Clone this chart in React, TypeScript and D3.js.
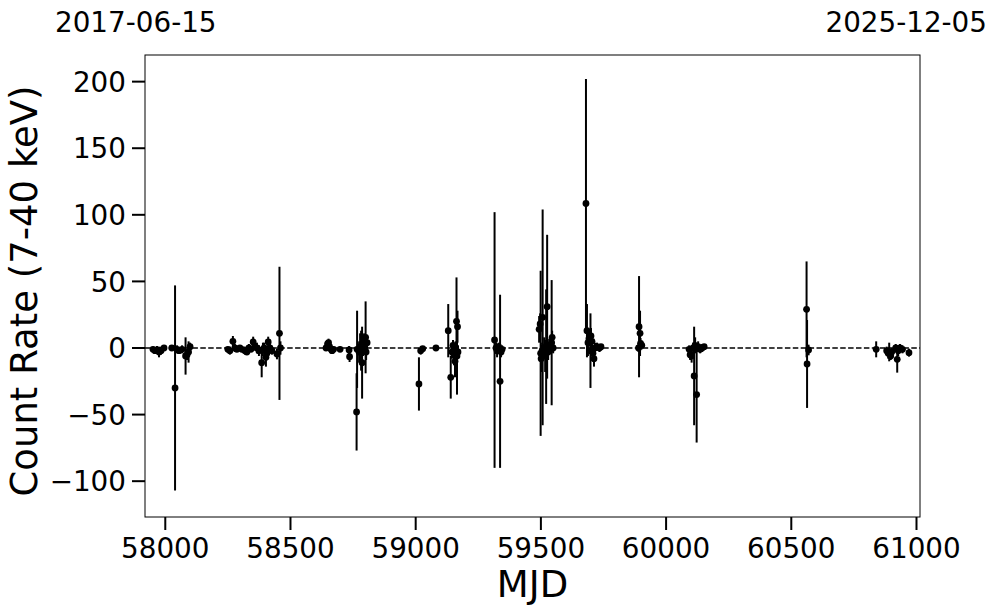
import React from "react";
import * as d3 from "d3";

// MJD of each observation
const mjd: number[] = [
  57951, 57959, 57967, 57975, 57983, 57995, 58026, 58039, 58047, 58055, 58067, 58081, 58087, 58093, 58099,
  58250, 58258, 58270, 58278, 58286, 58298, 58306, 58318, 58326, 58334, 58342, 58351, 58358, 58366, 58374,
  58385, 58390, 58395, 58402, 58406, 58411, 58418, 58426, 58446, 58456, 58460,
  58642, 58648, 58652, 58656, 58662, 58666, 58672, 58698, 58734, 58736, 58764, 58766, 58774, 58778, 58782,
  58786, 58790, 58794, 58800, 58802, 58806,
  59013, 59020, 59028, 59081, 59130, 59140, 59145, 59149, 59153, 59157, 59159, 59163, 59165, 59167, 59169,
  59315, 59321, 59325, 59331, 59337, 59341, 59345,
  59493, 59497, 59499, 59501, 59505, 59507, 59513, 59517, 59521, 59525, 59529, 59533, 59537, 59543, 59545, 59549,
  59680, 59684, 59688, 59692, 59698, 59700, 59704, 59708, 59712, 59716, 59724, 59734, 59740,
  59890, 59892, 59896, 59898, 59903,
  60092, 60096, 60102, 60108, 60112, 60116, 60122, 60128, 60136, 60144, 60152,
  60561, 60563, 60569,
  60839, 60881, 60887, 60891, 60897, 60901, 60917, 60923, 60927, 60934, 60944, 60970,
];

// Count rate (7-40 keV)
const rate: number[] = [
  -1, -2, -1.5, -3, -2, 0, 0, -30, -1, -2, -1, -6, -5, -3, 1,
  -1, -2, 5, 0, -1, 0, -1, -2, -3, 0, -1, 4.5, 1, 0, -2,
  -11, -1, 0, -7, -4, 4.5, 0, -2, -4.5, 11, 0,
  0, 3, 4, 1, -1, -2, -1, -1, -1.5, -6.5, -48, -1, -3, 1, -2,
  -11, 2, 5, 8, -3, 4,
  -27, -2, -0.5, 0, 13, -22, -3, 2, -5, -10, 0, 20, -6, 16, -3,
  6, 0, -2, 1, -25, -3, -1,
  14, 18, -4, -8, -2, 23, 0, -6, 1, 31, -3, 2, -1, 4, 8, 0,
  108.5, 13, 4, 7, -2, 9, 5, -4, -8, 0, 1, 0, 1,
  0, 16, 11, 3.5, 2,
  -1, -5, -6, 0, -21, 2, -35, 1, -1, 0, 1,
  29, -12, -1.5,
  -1, -2, -4, -3, -6, -3, 0, -8.5, -2, 0, -1, -3.5,
];

// 1-sigma uncertainty
const rateErr: number[] = [
  2, 2, 3, 4, 3, 2, 2, 77, 3, 2, 3, 14, 4, 8, 3,
  2, 3, 4, 3, 2, 2, 2, 3, 2, 3, 2, 4, 3, 4, 4,
  11, 5, 4, 7, 5, 4, 3, 3, 4, 50, 5,
  2, 2, 3, 2, 2, 2, 2, 2, 3, 4, 29, 29, 8, 10, 15,
  27, 8, 6, 27, 6, 5,
  20, 3, 2, 2, 20, 16, 5, 4, 8, 12, 5, 33, 29, 12, 5,
  96, 4, 5, 3, 65, 4, 3,
  10, 8, 62, 10, 6, 81, 8, 12, 43, 54, 6, 5, 3, 47, 5, 4,
  93.5, 20, 10, 6, 28, 6, 5, 6, 6, 4, 3, 3, 2,
  3, 38, 17, 4, 3,
  3, 4, 5, 4, 37, 6, 36, 4, 3, 3, 2,
  36, 33, 4,
  6, 3, 4, 7, 3, 3, 3, 10, 4, 3, 3, 3,
];

const xTicks: number[] = [58000, 58500, 59000, 59500, 60000, 60500, 61000];
const yTicks: number[] = [-100, -50, 0, 50, 100, 150, 200];
const xDomain: number[] = [57919, 61014];
const yDomain: number[] = [-126.9, 220.0];
const startDate = "2017-06-15";
const endDate = "2025-12-05";

const W = 997;
const H = 613;
const L = 145, R = 920, T = 55, B = 517;
const FONT = "'DejaVu Sans', sans-serif";

export default function App() {
  const x = d3.scaleLinear().domain(xDomain).range([L, R]);
  const y = d3.scaleLinear().domain(yDomain).range([B, T]);
  const pts = mjd.map((m, i) => ({ m, r: rate[i], e: rateErr[i] }));
  const tickFs = 27.8;
  return (
    <svg
      width={W}
      height={H}
      style={{ position: "absolute", left: 0, top: 0, background: "#fff" }}
      fontFamily={FONT}
    >
      <rect x={0} y={0} width={W} height={H} fill="#fff" />
      <defs>
        <clipPath id="plot">
          <rect x={L} y={T} width={R - L} height={B - T} />
        </clipPath>
      </defs>
      {/* zero line */}
      <line
        x1={L}
        x2={R}
        y1={y(0)}
        y2={y(0)}
        stroke="#000"
        strokeWidth={1.5}
        strokeDasharray="5.5,2.4"
      />
      <g clipPath="url(#plot)">
        {pts.map((p, i) => (
          <line
            key={"e" + i}
            x1={x(p.m)}
            x2={x(p.m)}
            y1={y(p.r + p.e)}
            y2={y(p.r - p.e)}
            stroke="#000"
            strokeWidth={2}
          />
        ))}
        {pts.map((p, i) => (
          <circle key={"c" + i} cx={x(p.m)} cy={y(p.r)} r={3.4} fill="#000" />
        ))}
      </g>
      {/* frame */}
      <rect x={L} y={T} width={R - L} height={B - T} fill="none" stroke="#000" strokeWidth={1} />
      {/* x ticks */}
      {xTicks.map((t) => (
        <g key={"xt" + t}>
          <line x1={x(t)} x2={x(t)} y1={B} y2={B + 13} stroke="#000" strokeWidth={2} />
          <text x={x(t)} y={558.3} textAnchor="middle" fontSize={tickFs} fill="#000">
            {t}
          </text>
        </g>
      ))}
      {/* y ticks */}
      {yTicks.map((t) => (
        <g key={"yt" + t}>
          <line x1={L - 13} x2={L} y1={y(t)} y2={y(t)} stroke="#000" strokeWidth={2} />
          <text x={L - 19} y={y(t) + 10.1} textAnchor="end" fontSize={tickFs} fill="#000">
            {t < 0 ? "\u2212" + Math.abs(t) : t}
          </text>
        </g>
      ))}
      {/* axis labels */}
      <text x={(L + R) / 2} y={597} textAnchor="middle" fontSize={37} fill="#000">
        MJD
      </text>
      <text
        transform={`translate(37,${(T + B) / 2 + 5}) rotate(-90)`}
        textAnchor="middle"
        fontSize={37}
        fill="#000"
      >
        Count Rate (7-40 keV)
      </text>
      {/* date labels */}
      <text x={55} y={32.3} textAnchor="start" fontSize={tickFs} fill="#000">
        {startDate}
      </text>
      <text x={987} y={32.3} textAnchor="end" fontSize={tickFs} fill="#000">
        {endDate}
      </text>
    </svg>
  );
}
